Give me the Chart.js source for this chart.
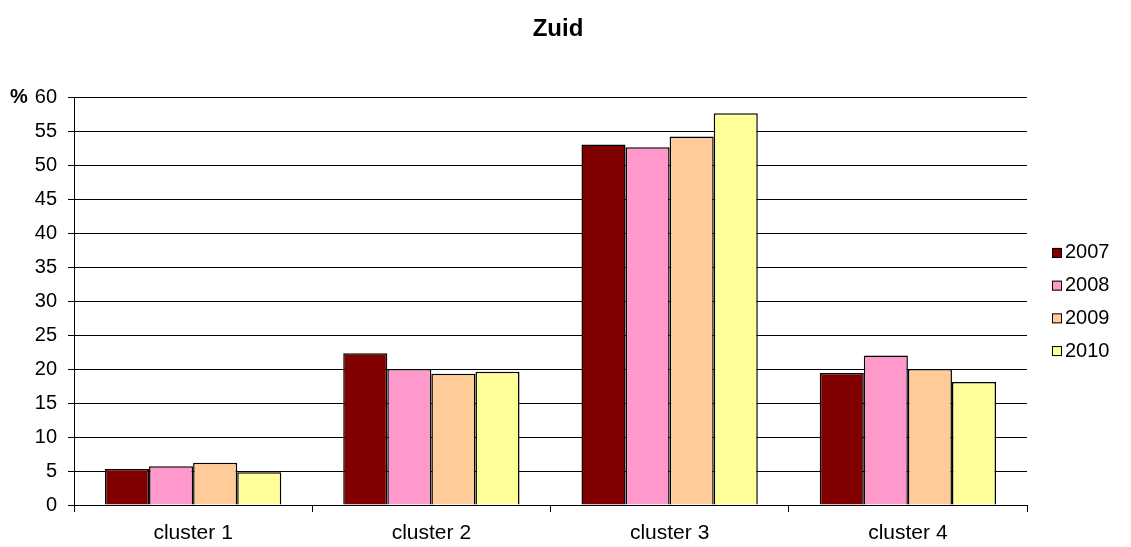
<!DOCTYPE html>
<html>
<head>
<meta charset="utf-8">
<script src="https://cdn.jsdelivr.net/npm/chart.js@4/dist/chart.umd.min.js"></script>
<style>
  body { margin: 0; background: #fff; }
  canvas { display: block; }
</style>
</head>
<body>
<canvas id="chart" width="1131" height="547"></canvas>
<script>
const categories = ["cluster 1", "cluster 2", "cluster 3", "cluster 4"];
const years = ["2007", "2008", "2009", "2010"];
const values2007 = [5.3, 22.3, 53.0, 19.4];
const values2008 = [5.7, 20.0, 52.6, 22.0];
const values2009 = [6.2, 19.3, 54.2, 20.0];
const values2010 = [4.8, 19.6, 57.6, 18.1];
const colors = ["#800000", "#FF99CC", "#FFCC99", "#FFFF99"];

const FONT = "'Liberation Sans', Arial, sans-serif";

// title and the "%" unit label
const texts = {
  id: "texts",
  afterDraw(chart) {
    const { ctx, scales } = chart;
    ctx.save();
    ctx.fillStyle = "#000";
    ctx.font = "bold 24px " + FONT;
    ctx.textAlign = "center";
    ctx.textBaseline = "alphabetic";
    ctx.fillText("Zuid", 558, 36);
    ctx.font = "bold 20px " + FONT;
    ctx.textAlign = "left";
    ctx.textBaseline = "middle";
    ctx.fillText("%", 10, scales.y.getPixelForValue(60));
    ctx.restore();
  }
};

// legend drawn by hand so it sits where the original one is
const sideLegend = {
  id: "sideLegend",
  afterDraw(chart) {
    const { ctx, chartArea } = chart;
    const sets = chart.data.datasets;
    const step = 32.7;
    const x = chartArea.right + 25;
    let y = 302 - step * (sets.length - 1) / 2;
    ctx.save();
    ctx.font = "20px " + FONT;
    ctx.textBaseline = "middle";
    ctx.textAlign = "left";
    sets.forEach((ds) => {
      ctx.fillStyle = ds.backgroundColor;
      ctx.fillRect(x, y - 5, 10, 10);
      ctx.strokeStyle = "#000";
      ctx.lineWidth = 1;
      ctx.strokeRect(x + 0.5, y - 4.5, 9, 9);
      ctx.fillStyle = "#000";
      ctx.fillText(ds.label, x + 13, y);
      y += step;
    });
    ctx.restore();
  }
};

const series = [values2007, values2008, values2009, values2010];

new Chart(document.getElementById("chart"), {
  type: "bar",
  data: {
    labels: categories,
    datasets: years.map((y, i) => ({
      label: y,
      data: series[i],
      backgroundColor: colors[i],
      borderColor: "#000",
      borderWidth: 1.5,
      categoryPercentage: 0.74,
      barPercentage: 1.0
    }))
  },
  options: {
    responsive: false,
    animation: false,
    layout: { padding: { left: 0, right: 104, top: 97, bottom: 0 } },
    plugins: {
      title: { display: false },
      legend: { display: false },
      tooltip: { enabled: false }
    },
    scales: {
      x: {
        afterFit(scale) { scale.height = 42; },
        grid: {
          offset: true,
          drawOnChartArea: false,
          color: "#000",
          tickLength: 7
        },
        border: { color: "#000" },
        ticks: { color: "#000", font: { family: FONT, size: 21 }, padding: 9 }
      },
      y: {
        afterFit(scale) { scale.width = 74; },
        min: 0,
        max: 60,
        ticks: { stepSize: 5, color: "#000", font: { family: FONT, size: 20 }, padding: 11 },
        grid: { color: "#000", tickLength: 6 },
        border: { color: "#000" }
      }
    }
  },
  plugins: [texts, sideLegend]
});
</script>
</body>
</html>
